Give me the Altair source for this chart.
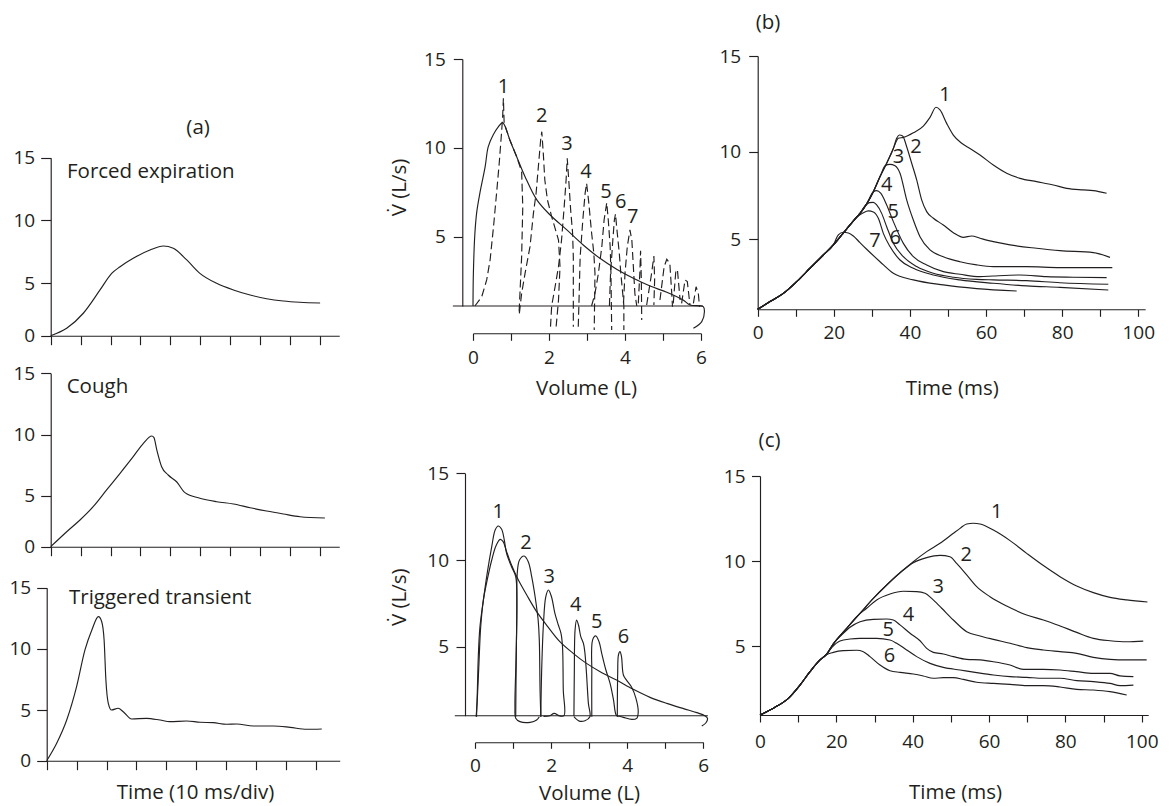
import altair as alt
import pandas as pd

# ---------------- data ----------------
# (a) time courses, time in ms, flow in L/s
A1_T = [0, 5.35, 10.9, 16.5, 20.4, 23.2, 27.6, 33.2, 37.7, 41.0, 45.5, 49.9, 55.5, 61.1, 66.7, 72.2, 77.8, 83.3, 90.1]
A1_F = [0, 0.70, 2.13, 4.34, 5.77, 6.30, 6.97, 7.63, 7.95, 7.77, 6.84, 5.77, 4.97, 4.34, 3.86, 3.51, 3.29, 3.17, 3.10]
A2_T = [0, 5.35, 9.8, 14.2, 18.7, 23.2, 27.6, 31.0, 33.8, 34.5, 35.5, 37.1, 39.3, 42.1, 44.9, 49.9, 55.5, 61.1, 66.7, 72.2, 77.8, 83.4, 91.7]
A2_F = [0, 1.47, 2.62, 3.92, 5.47, 6.83, 8.19, 9.28, 9.88, 9.77, 8.73, 7.37, 6.69, 6.14, 5.25, 4.75, 4.41, 4.19, 3.82, 3.50, 3.21, 2.94, 2.81]
A3_T = [0, 3.34, 6.69, 10.0, 12.8, 15.1, 17.3, 18.4, 19.2, 19.8, 20.6, 21.7, 23.9, 25.6, 28.4, 33.4, 37.9, 41.2, 46.8, 51.3, 55.7, 60.2, 63.5, 69.1, 75.8, 81.4, 87.0, 92.0]
A3_F = [0, 1.72, 4.01, 6.91, 9.91, 11.54, 12.63, 12.22, 10.72, 7.45, 5.55, 5.0, 5.14, 4.83, 4.11, 4.18, 4.01, 3.85, 3.92, 3.79, 3.75, 3.59, 3.62, 3.42, 3.42, 3.29, 3.10, 3.13]
A_NAMES = ["Forced expiration", "Cough", "Triggered transient"]

# (b) flow-volume: maximal envelope (solid) and partial loops (dashed); (volume L, flow L/s)
BM_ENV = [(0, 0), (0.01, 2.36), (0.05, 5.19), (0.10, 6.41), (0.18, 7.44), (0.32, 8.94), (0.40, 10.06), (0.53, 10.72),
          (0.67, 11.19), (0.78, 11.42), (0.84, 11.23), (0.97, 10.44), (1.15, 9.5), (1.37, 8.38), (1.68, 7.07), (2.03, 6.22),
          (2.47, 5.38), (2.90, 4.40), (3.34, 3.44), (3.78, 2.65), (4.22, 2.0), (4.66, 1.44), (5.10, 0.99), (5.53, 0.43),
          (5.71, 0.07), (6.06, -0.05), (6.09, -0.41), (6.02, -1.13), (5.80, -1.61)]
BM_L1 = [(0.05, 0), (0.23, 0.67), (0.36, 1.88), (0.45, 3.32), (0.54, 5.56), (0.62, 7.44), (0.69, 9.13), (0.75, 10.82),
         (0.78, 11.75), (0.80, 12.79), (0.82, 11.38), (0.97, 10.44), (1.15, 9.5), (1.28, 8.66), (1.31, 6.69), (1.28, 3.56), (1.21, -0.65)]
BM_L2 = [(1.22, -0.53), (1.28, 0.91), (1.37, 2.36), (1.50, 4.28), (1.59, 6.31), (1.66, 7.44), (1.72, 8.94), (1.78, 10.44),
         (1.81, 10.91), (1.85, 9.69), (1.89, 8.19), (1.96, 7.06), (2.07, 6.13), (2.25, 4.76), (2.29, 2.84), (2.25, 0.43), (2.18, -1.73)]
BM_L3 = [(2.04, -1.49), (2.07, 0), (2.16, 1.39), (2.25, 2.84), (2.33, 4.76), (2.40, 6.69), (2.45, 8.19), (2.48, 9.41),
         (2.52, 8.19), (2.57, 6.5), (2.62, 5.24), (2.64, 3.56), (2.64, -1.49)]
BM_L4 = [(2.77, -1.49), (2.79, 0.43), (2.82, 3.56), (2.89, 5.94), (2.95, 7.44), (2.99, 8.0), (3.04, 7.06), (3.12, 5.24),
         (3.18, 3.80), (3.21, 2.36), (3.19, -1.73)]
BM_L5 = [(3.12, 0), (3.21, 0.91), (3.30, 2.36), (3.39, 4.28), (3.45, 5.94), (3.52, 6.91), (3.56, 5.94), (3.61, 4.28),
         (3.63, 2.36), (3.65, -1.73)]
BM_L6 = [(3.59, 0), (3.62, 2.36), (3.68, 4.76), (3.72, 5.94), (3.75, 6.28), (3.78, 5.56), (3.85, 3.80), (3.89, 2.36),
         (3.94, 0.91), (3.97, 0), (3.97, -1.73)]
BM_L7 = [(3.96, 0.19), (4.0, 2.36), (4.06, 4.28), (4.13, 5.38), (4.18, 4.76), (4.22, 2.84), (4.26, 0.91), (4.31, 0)]
BM_L8 = [(4.35, 0.19), (4.39, 2.36), (4.41, 3.99), (4.43, 1.88), (4.44, -1.01)]
BM_L9 = [(4.57, 0.07), (4.70, 2.36), (4.76, 3.61), (4.78, 1.88), (4.76, 0.07)]
BM_L10 = [(4.92, 0.43), (5.03, 2.84), (5.10, 3.37), (5.18, 3.08), (5.23, 0.91), (5.25, -0.05)]
BM_L11 = [(5.27, 0.19), (5.34, 2.60), (5.38, 2.60), (5.45, 0.43)]
BM_L12 = [(5.49, 0.19), (5.58, 1.88), (5.64, 1.76), (5.71, 0.07)]
BM_L13 = [(5.80, 0.19), (5.87, 1.39), (5.93, 0.91), (5.96, -0.05)]
BM_LAB = ["1", "2", "3", "4", "5", "6", "7"]
BM_LAB_V = [0.80, 1.81, 2.47, 2.97, 3.50, 3.89, 4.20]
BM_LAB_F = [13.44, 11.79, 10.22, 8.66, 7.53, 6.97, 6.13]
BM_ZERO = (-0.53, 6.05)

# (b) time courses (ms, L/s)
BR_RISE = [(0, 0), (3.24, 0.55), (6.74, 1.14), (10.25, 1.98), (13.75, 2.93), (17.25, 3.88), (19.88, 4.60)]
BR_RISE2 = [(22.07, 5.25), (24.26, 5.82), (26.0, 6.26)]
BR_UP = [(26.88, 6.48), (28.63, 7.02), (30.39, 7.72)]
BR_UP2 = [(32.14, 8.58), (33.89, 9.34), (35.64, 10.17)]
BR_C1 = [(36.95, 10.70), (38.27, 10.75), (40.89, 10.99), (43.52, 11.34), (45.27, 11.79), (46.85, 12.32), (47.90, 12.18),
         (49.65, 11.48), (51.40, 10.87), (53.59, 10.44), (55.78, 10.17), (58.41, 9.81), (61.91, 9.24), (65.41, 8.77),
         (68.91, 8.48), (73.29, 8.29), (77.67, 8.10), (81.17, 7.91), (85.55, 7.82), (88.18, 7.78), (91.68, 7.63)]
BR_C2 = [(36.51, 10.70), (37.22, 10.87), (38.09, 10.82), (39.14, 10.26), (40.46, 9.34), (41.77, 8.39), (43.08, 7.25),
         (44.40, 6.58), (46.15, 6.20), (48.77, 5.82), (51.40, 5.38), (54.03, 5.11), (56.22, 5.19), (58.41, 5.06),
         (61.91, 4.83), (66.29, 4.60), (73.29, 4.36), (79.42, 4.19), (88.18, 4.05), (92.56, 3.71)]
BR_C3 = [(32.31, 8.65), (33.45, 9.20), (34.76, 9.28), (36.08, 9.20), (37.39, 8.77), (39.14, 7.25), (40.89, 6.10),
         (42.64, 5.15), (45.27, 4.24), (48.77, 3.76), (53.15, 3.40), (57.53, 3.17), (61.91, 3.05), (70.67, 3.05),
         (79.42, 2.98), (93.17, 2.98)]
BR_C4 = [(31.26, 7.78), (32.31, 7.63), (33.89, 6.96), (35.64, 6.01), (38.27, 4.71), (40.89, 3.76), (44.40, 3.17),
         (48.77, 2.69), (53.15, 2.50), (58.41, 2.33), (61.91, 2.38), (68.91, 2.45), (75.92, 2.33), (82.92, 2.29), (91.68, 2.26)]
BR_C5 = [(26.88, 6.48), (28.20, 6.90), (29.33, 7.09), (30.39, 7.11), (31.26, 6.96), (32.57, 6.48), (33.89, 5.72),
         (35.64, 4.71), (38.27, 3.76), (41.77, 3.05), (46.15, 2.57), (51.40, 2.29), (57.53, 2.14), (61.91, 2.10),
         (70.67, 2.05), (79.42, 1.90), (92.12, 1.79)]
BR_C6 = [(27.76, 6.52), (29.07, 6.62), (30.39, 6.56), (31.70, 6.20), (33.01, 5.34), (34.76, 4.48), (37.39, 3.52),
         (40.89, 2.93), (46.15, 2.45), (53.15, 2.10), (61.91, 1.86), (70.67, 1.67), (79.42, 1.57), (92.12, 1.38)]
BR_C7 = [(21.19, 5.25), (22.50, 5.40), (23.82, 5.36), (25.13, 5.19), (26.88, 4.76), (28.63, 4.29), (32.14, 3.40),
         (35.64, 2.57), (40.89, 2.10), (48.77, 1.74), (57.53, 1.48), (68.04, 1.31)]
BR_LAB = ["1", "2", "3", "4", "5", "6", "7"]
BR_LAB_T = [49.2, 41.6, 37.0, 33.9, 35.6, 36.1, 30.8]
BR_LAB_F = [12.96, 10.26, 9.68, 8.10, 6.54, 5.06, 4.90]

# (c) flow-volume: all solid
CM_ENV = [(0.03, -0.07), (0.06, 1.14), (0.10, 3.55), (0.15, 6.15), (0.22, 7.69), (0.32, 8.84), (0.44, 10.0), (0.55, 10.81),
          (0.66, 11.19), (0.74, 11.06), (0.83, 10.48), (0.96, 9.71), (1.14, 8.84), (1.36, 7.98), (1.62, 7.02), (1.88, 6.25),
          (2.23, 5.29), (2.58, 4.52), (2.93, 3.79), (3.29, 3.19), (3.72, 2.58), (4.16, 1.91), (4.60, 1.33), (5.04, 0.89),
          (5.48, 0.51), (5.83, 0.22), (6.04, 0), (6.11, -0.19), (6.07, -0.51), (5.96, -0.75)]
CM_L1 = [(0.04, -0.07), (0.06, 1.62), (0.09, 4.52), (0.13, 6.15), (0.22, 7.69), (0.32, 9.23), (0.44, 10.77), (0.53, 11.73),
         (0.61, 11.96), (0.70, 11.77), (0.77, 11.15), (0.83, 10.38), (0.96, 9.61), (1.07, 9.04), (1.10, 7.31), (1.08, 4.28),
         (1.05, 0.65), (1.07, -0.19), (1.18, -0.43), (1.45, -0.48), (1.62, -0.31), (1.69, -0.07)]
CM_L2 = [(1.07, -0.07), (1.08, 3.07), (1.10, 7.31), (1.11, 9.23), (1.17, 10.0), (1.29, 10.23), (1.40, 9.90), (1.49, 9.04),
         (1.58, 7.88), (1.64, 6.92), (1.66, 6.54), (1.69, 5.38), (1.71, 1.86), (1.73, -0.07)]
CM_L3 = [(1.73, -0.07), (1.75, 3.07), (1.80, 6.35), (1.86, 7.88), (1.93, 8.27), (2.01, 7.88), (2.10, 6.92), (2.19, 6.25),
         (2.26, 5.77), (2.30, 5.0), (2.32, 1.86), (2.34, 0), (2.23, -0.02), (2.08, 0.17), (1.97, 0), (1.80, -0.05)]
CM_L4 = [(2.60, -0.02), (2.61, 3.07), (2.63, 5.96), (2.67, 6.54), (2.72, 6.25), (2.78, 5.58), (2.85, 5.19), (2.89, 4.52),
         (2.93, 3.07), (2.98, 0.89), (3.02, -0.07), (2.89, -0.36), (2.74, -0.39), (2.60, -0.07)]
CM_L5 = [(3.07, -0.07), (3.07, 3.07), (3.09, 5.38), (3.17, 5.62), (3.26, 5.29), (3.33, 4.52), (3.44, 3.31), (3.55, 2.34),
         (3.64, 1.14), (3.71, 0.05), (3.77, -0.07)]
CM_L6 = [(3.74, -0.07), (3.75, 3.07), (3.77, 4.40), (3.81, 4.64), (3.85, 4.28), (3.90, 2.95), (3.99, 2.54), (4.12, 2.05),
         (4.23, 1.26), (4.29, 0.29), (4.25, -0.19), (4.12, -0.27), (3.90, -0.12), (3.77, -0.02)]
CM_LAB = ["1", "2", "3", "4", "5", "6"]
CM_LAB_V = [0.61, 1.34, 1.95, 2.65, 3.20, 3.90]
CM_LAB_F = [12.79, 10.96, 9.04, 7.40, 6.44, 5.58]
CM_ZERO = (-0.53, 6.12)

# (c) time courses
CR_RISE = [(0, 0), (3.93, 0.56), (7.42, 1.21), (10.48, 2.17), (13.10, 3.14), (15.72, 3.99), (17.29, 4.35)]
CR_ENV = [(19.21, 5.12), (22.71, 6.04), (26.20, 6.92), (29.69, 7.80), (33.19, 8.59), (36.68, 9.31)]
CR_C1 = [(40.17, 9.96), (43.67, 10.55), (47.16, 11.04), (50.66, 11.63), (52.40, 11.92), (54.15, 12.18), (55.90, 12.22),
         (57.64, 12.18), (61.14, 11.82), (65.50, 11.20), (69.87, 10.45), (74.24, 9.73), (78.60, 9.08), (82.97, 8.53),
         (87.34, 8.14), (91.70, 7.86), (96.07, 7.71), (101.5, 7.59)]
CR_C2 = [(37.55, 9.47), (40.17, 9.90), (43.67, 10.20), (47.16, 10.33), (49.78, 10.25), (51.53, 9.86), (54.15, 9.18),
         (56.77, 8.49), (60.26, 7.90), (64.63, 7.35), (69.87, 6.82), (74.24, 6.53), (78.60, 6.18), (82.97, 5.80),
         (87.34, 5.45), (91.70, 5.31), (96.07, 5.25), (100.4, 5.29)]
CR_C3 = [(19.21, 5.12), (22.71, 6.04), (25.33, 6.73), (27.95, 7.22), (30.57, 7.71), (34.06, 8.06), (37.55, 8.22),
         (41.05, 8.20), (43.23, 8.10), (44.98, 7.80), (47.60, 7.22), (50.66, 6.53), (54.15, 5.84), (57.64, 5.59),
         (61.14, 5.39), (65.50, 5.16), (69.87, 4.88), (74.24, 4.71), (78.60, 4.59), (82.97, 4.47), (87.34, 4.18),
         (91.70, 4.03), (96.07, 3.99), (101.3, 3.99)]
CR_C4 = [(19.65, 5.25), (21.40, 5.65), (23.58, 6.10), (26.20, 6.43), (29.69, 6.57), (33.19, 6.59), (34.93, 6.53),
         (36.68, 6.24), (39.30, 5.75), (41.92, 5.31), (43.67, 4.83), (45.41, 4.54), (48.03, 4.42), (50.66, 4.23),
         (54.15, 4.03), (57.64, 3.99), (61.14, 3.86), (65.50, 3.62), (69.00, 3.31), (74.24, 3.31), (78.60, 3.26),
         (82.97, 3.14), (87.34, 3.02), (91.70, 3.02), (94.32, 2.83), (97.82, 2.78)]
CR_C5 = [(18.78, 4.88), (20.96, 5.29), (23.58, 5.41), (26.20, 5.45), (30.57, 5.45), (34.06, 5.35), (35.81, 5.16),
         (38.43, 4.71), (41.05, 4.23), (44.54, 3.74), (48.03, 3.45), (52.40, 3.26), (56.77, 3.07), (61.14, 2.90),
         (65.50, 2.78), (69.87, 2.73), (74.24, 2.66), (78.60, 2.66), (82.97, 2.49), (87.34, 2.42), (91.70, 2.29),
         (94.32, 2.13), (97.82, 2.17)]
CR_C6 = [(19.21, 4.54), (21.83, 4.66), (25.33, 4.69), (27.07, 4.59), (28.82, 4.23), (31.44, 3.62), (34.06, 3.21),
         (36.68, 3.09), (40.17, 2.97), (42.79, 2.83), (45.41, 2.66), (48.03, 2.71), (50.66, 2.71), (53.28, 2.58),
         (56.77, 2.37), (61.14, 2.29), (65.50, 2.22), (69.87, 2.13), (74.24, 2.13), (78.60, 2.03), (82.97, 1.86),
         (87.34, 1.81), (91.70, 1.69), (96.07, 1.45)]
CR_LAB = ["1", "2", "3", "4", "5", "6"]
CR_LAB_T = [62.0, 54.0, 46.7, 38.9, 33.6, 33.9]
CR_LAB_F = [12.90, 10.35, 8.49, 6.82, 5.95, 4.25]

# ---------------- styling / layout ----------------
W, H = 1153, 798
FONT = "Open Sans"
INK = "#231f20"
FS_TICK = 19
FS_TEXT = 20.5
FS_NUM = 20
LW = 1.15


def cx(p):
    return p - 8


def cy(p):
    return p - 8


def curves(*paths):
    rows = []
    for s, pts in enumerate(paths):
        for i, (x, y) in enumerate(pts):
            rows.append({"s": s, "i": i, "x": x, "y": y})
    return pd.DataFrame(rows)


def labels(texts, xs, ys):
    return pd.DataFrame({"label": texts, "x": xs, "y": ys})


def xs_(domain, p0, p1):
    return alt.Scale(domain=domain, range=[cx(p0), cx(p1)], zero=False, nice=False)


def ys_(domain, prange):
    return alt.Scale(domain=domain, range=[cy(p) for p in prange], zero=False, nice=False)


def xaxis(py, values, tick, pad=6, expr=None, show_labels=True, title=None, tx=0, ty=0):
    kw = dict(orient="bottom", offset=cy(py) - H, values=values, tickSize=tick, labelPadding=pad,
              grid=False, domainColor=INK, tickColor=INK, domainWidth=LW, tickWidth=LW,
              labels=show_labels, labelFont=FONT, labelFontSize=FS_TICK, labelColor=INK,
              labelFlush=False, labelOverlap=False, labelBound=False, title=title)
    if expr:
        kw["labelExpr"] = expr
    if title:
        kw.update(titleX=tx, titleY=ty, titleFont=FONT, titleFontSize=FS_TEXT, titleFontWeight="normal",
                  titleColor=INK, titleAlign="center", titleBaseline="alphabetic", titleAngle=0)
    return alt.Axis(**kw)


def yaxis(px, values, tick, pad, title=None, tx=0, ty=0):
    kw = dict(orient="left", offset=-cx(px), values=values, tickSize=tick, labelPadding=pad,
              grid=False, domainColor=INK, tickColor=INK, domainWidth=LW, tickWidth=LW,
              labelFont=FONT, labelFontSize=FS_TICK, labelColor=INK, labelAlign="right", labelBaseline="middle",
              labelFlush=False, labelOverlap=False, labelBound=False, title=title)
    if title:
        kw.update(titleX=tx, titleY=ty, titleFont=FONT, titleFontSize=FS_TEXT, titleFontWeight="normal",
                  titleColor=INK, titleAlign="center", titleBaseline="middle", titleAngle=270)
    return alt.Axis(**kw)


def line(df, xs, ys, xax=None, yax=None, interp="linear", dash=None):
    props = dict(color=INK, strokeWidth=LW, interpolate=interp)
    if dash:
        props["strokeDash"] = dash
    return alt.Chart(df).mark_line(**props).encode(
        x=alt.X("x:Q", scale=xs, axis=xax), y=alt.Y("y:Q", scale=ys, axis=yax),
        detail="s:N", order="i:Q")


def text(df, xs, ys, size, align="center", baseline="middle"):
    return alt.Chart(df).mark_text(font=FONT, fontSize=size, color=INK, align=align, baseline=baseline).encode(
        x=alt.X("x:Q", scale=xs, axis=None), y=alt.Y("y:Q", scale=ys, axis=None), text="label:N")


def zero_rule(x0, x1, xs, ys):
    df = pd.DataFrame({"x": [x0], "x2": [x1], "y": [0]})
    return alt.Chart(df).mark_rule(color=INK, strokeWidth=LW).encode(
        x=alt.X("x:Q", scale=xs, axis=None), x2="x2:Q", y=alt.Y("y:Q", scale=ys, axis=None))


layers = []
A_TICKS = list(range(0, 100, 10))

# ---- (a) three stacked panels ----
a_specs = [
    (A1_T, A1_F, 50.7, 96.5, (335.7, 283.0, 157.7)),
    (A2_T, A2_F, 50.7, 96.5, (546.7, 495.7, 373.3)),
    (A3_T, A3_F, 46.7, 98.0, (760.7, 710.0, 587.7)),
]
for k, (tt, ff, x0, tmax, yr) in enumerate(a_specs):
    xs = xs_([0, tmax], x0, x0 + tmax * 2.99)
    ys = ys_([0, 5, 15], yr)
    title = "Time (10 ms/div)" if k == 2 else None
    xax = xaxis(yr[0], A_TICKS, 9, show_labels=False, title=title, tx=cx(195), ty=798 - yr[0])
    yax = yaxis(x0, [0, 5, 10, 15], 10, 6)
    layers.append(line(curves(list(zip(tt, ff))), xs, ys, xax, yax, interp="monotone"))
    pos_t = [5.45, 5.35, 7.46][k]
    pos_f = [13.40, 13.37, 13.64][k]
    layers.append(text(labels([A_NAMES[k]], [pos_t], [pos_f]), xs, ys, FS_TEXT, align="left", baseline="alphabetic"))
    if k == 0:
        layers.append(text(labels(["(a)"], [49.3], [17.37]), xs, ys, FS_TEXT))

# ---- (b) flow-volume ----
xs = xs_([0, 6], 473, 701)
ys = ys_([0, 5, 15], (306, 236.7, 59))
layers.append(zero_rule(BM_ZERO[0], BM_ZERO[1], xs, ys))
layers.append(line(curves(BM_ENV), xs, ys,
                   xaxis(333.3, list(range(7)), 7, 8, expr="datum.value % 2 == 0 ? datum.label : ''",
                         title="Volume (L)", tx=cx(586), ty=394 - 333.3),
                   yaxis(462.3, [5, 10, 15], 9, 8, title="V\u0307 (L/s)", tx=399 - 462.3, ty=cy(187)),
                   interp="catmull-rom"))
layers.append(line(curves(BM_L1, BM_L2, BM_L3, BM_L4, BM_L5, BM_L6, BM_L7, BM_L8, BM_L9, BM_L10, BM_L11, BM_L12, BM_L13),
                   xs, ys, interp="linear", dash=[8, 4]))
layers.append(text(labels(BM_LAB, BM_LAB_V, BM_LAB_F), xs, ys, FS_NUM))

# ---- (b) time courses ----
xs = xs_([0, 101.8], 757.7, 757.7 + 101.8 * 3.806)
ys = ys_([0, 5, 10, 15], (309.3, 239.3, 151.7, 56))
br_paths = [
    BR_RISE + BR_RISE2 + BR_UP + BR_UP2 + BR_C1,
    BR_RISE + BR_RISE2 + BR_UP + BR_UP2 + BR_C2,
    BR_RISE + BR_RISE2 + BR_UP + BR_C3,
    BR_RISE + BR_RISE2 + BR_UP + BR_C4,
    BR_RISE + BR_RISE2 + BR_C5,
    BR_RISE + BR_RISE2 + BR_C6,
    BR_RISE + BR_C7,
]
layers.append(line(curves(*br_paths), xs, ys,
                   xaxis(309.3, list(range(0, 101, 10)), 7, 7, expr="datum.value % 20 == 0 ? datum.label : ''",
                         title="Time (ms)", tx=cx(951.7), ty=394 - 309.3),
                   yaxis(757.7, [5, 10, 15], 9, 8),
                   interp="monotone"))
layers.append(text(labels(BR_LAB, BR_LAB_T, BR_LAB_F), xs, ys, FS_NUM))
layers.append(text(labels(["(b)"], [2.7], [16.72]), xs, ys, FS_TEXT))

# ---- (c) flow-volume ----
xs = xs_([0, 6], 475, 703.3)
ys = ys_([0, 5, 15], (715.7, 646.7, 473.3))
layers.append(zero_rule(CM_ZERO[0], CM_ZERO[1], xs, ys))
layers.append(line(curves(CM_ENV, CM_L1, CM_L2, CM_L3, CM_L4, CM_L5, CM_L6), xs, ys,
                   xaxis(742.3, list(range(7)), 6, 8, expr="datum.value % 2 == 0 ? datum.label : ''",
                         title="Volume (L)", tx=cx(589), ty=799.5 - 742.3),
                   yaxis(465, [5, 10, 15], 9, 7.5, title="V\u0307 (L/s)", tx=399 - 465, ty=cy(596.7)),
                   interp="catmull-rom"))
layers.append(text(labels(CM_LAB, CM_LAB_V, CM_LAB_F), xs, ys, FS_NUM))

# ---- (c) time courses ----
xs = xs_([0, 101.7], 760, 760 + 101.7 * 3.817)
ys = ys_([0, 5, 15], (715, 646, 476))
cr_paths = [
    CR_RISE + CR_ENV + CR_C1,
    CR_RISE + CR_ENV + CR_C2,
    CR_RISE + CR_C3,
    CR_RISE + CR_C4,
    CR_RISE + CR_C5,
    CR_RISE + CR_C6,
]
layers.append(line(curves(*cr_paths), xs, ys,
                   xaxis(715, list(range(0, 101, 10)), 7, 10, expr="datum.value % 20 == 0 ? datum.label : ''",
                         title="Time (ms)", tx=cx(955), ty=798 - 715),
                   yaxis(760, [5, 10, 15], 8.5, 6.5),
                   interp="monotone"))
layers.append(text(labels(CR_LAB, CR_LAB_T, CR_LAB_F), xs, ys, FS_NUM))
layers.append(text(labels(["(c)"], [2.5], [17.06]), xs, ys, FS_TEXT))

chart = (
    alt.layer(*layers)
    .resolve_scale(x="independent", y="independent")
    .properties(width=W, height=H, padding=0, autosize=alt.AutoSizeParams(type="none"),
                background="white")
    .configure_view(stroke=None)
)

chart.save("out.html", embed_options={"renderer": "svg", "actions": False})
